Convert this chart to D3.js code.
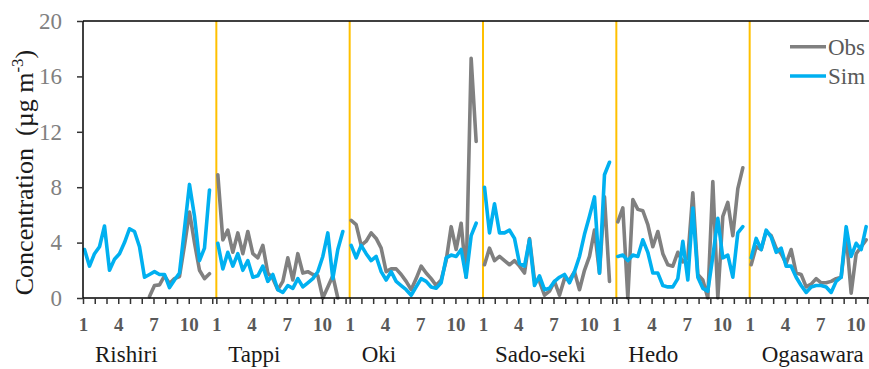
<!DOCTYPE html>
<html>
<head>
<meta charset="utf-8">
<script src="https://cdn.jsdelivr.net/npm/d3@7"></script>
<style>
  html, body { margin: 0; padding: 0; background: #fff; }
  svg { display: block; font-family: "Liberation Serif", "Times New Roman", serif; }
</style>
</head>
<body>
<svg id="chart" width="869" height="369"></svg>
<script>
// Sites along the x axis
const sites = ["Rishiri", "Tappi", "Oki", "Sado-seki", "Hedo", "Ogasawara"];
// Month ticks inside each site block and the ones that carry a label
const monthTicks = [1, 2, 3, 4, 5, 6, 7, 8, 9, 10, 11, 12];
const monthLabels = [1, 4, 7, 10];
const yTicks = [0, 4, 8, 12, 16, 20];
const seriesNames = ["Obs", "Sim"];

// Biweekly concentrations (µg m-3); null = no sample
const obsRishiri = [null, null, null, null, null, null, null, null, null, null, null, null, null,
  0.1, 0.9, 0.95, 1.6, 1.05, 1.4, 1.55, 3.8, 6.2, 4.0, 2.0, 1.4, 1.75];
const simRishiri = [3.5, 2.3, 3.2, 3.7, 5.2, 2.0, 2.8, 3.2, 4.0, 5.0, 4.8, 3.7, 1.5,
  1.7, 1.9, 1.7, 1.7, 0.75, 1.3, 1.8, 5.0, 8.2, 5.9, 2.7, 3.6, 7.8];

const obsTappi = [8.9, 4.2, 4.9, 3.3, 4.7, 3.2, 4.8, 3.2, 2.9, 3.8, 1.8, 1.4, 0.6,
  1.2, 2.9, 1.3, 3.2, 1.8, 1.9, 1.7, 1.6, 0, 0.8, 1.6, 0, null];
const simTappi = [3.95, 2.1, 3.3, 2.3, 3.2, 2.0, 2.7, 1.5, 1.6, 2.3, 1.2, 1.7, 0.6,
  0.4, 0.9, 0.7, 1.4, 0.8, 1.1, 1.4, 1.9, 3.0, 4.7, 1.4, 3.5, 4.8];

const obsOki = [5.6, 5.3, 3.8, 4.1, 4.7, 4.3, 3.6, 1.9, 2.1, 2.1, 1.7, 1.2, 0.6,
  1.4, 2.3, 1.8, 1.4, 0.9, 1.3, 2.7, 5.15, 3.5, 5.4, 1.5, 17.3, 11.3];
const simOki = [3.8, 2.9, 3.8, 3.2, 2.7, 3.0, 1.9, 1.3, 1.9, 1.2, 0.9, 0.6, 0.2,
  0.8, 1.4, 1.2, 0.8, 0.7, 1.1, 2.9, 3.1, 3.0, 3.5, 1.5, 4.5, 5.4];

const obsSadoseki = [2.4, 3.6, 2.7, 3.0, 2.7, 2.4, 2.7, 2.3, 1.8, 4.3, 1.3, 1.2, 0.2,
  0.5, 1.2, 0.2, 1.4, 1.3, 1.9, 0.6, 2.0, 3.0, 4.9, 1.8, 7.3, 1.2];
const simSadoseki = [8.0, 4.7, 6.8, 4.7, 4.7, 4.9, 4.3, 2.5, 2.3, 4.2, 0.9, 1.6, 0.6,
  0.7, 1.2, 1.5, 1.7, 1.1, 1.9, 3.0, 4.6, 5.9, 7.3, 1.8, 8.9, 9.8];

const obsHedo = [5.5, 6.5, 0, 7.1, 6.4, 6.3, 5.3, 3.7, 4.8, 3.2, 2.4, 2.3, 3.3,
  2.6, 2.9, 7.6, 1.7, 1.3, 0, 8.4, 0, 5.9, 6.9, 4.5, 7.9, 9.4];
const simHedo = [3.0, 3.1, 2.7, 3.1, 3.0, 4.2, 3.3, 1.8, 1.8, 0.9, 0.8, 0.8, 1.4,
  4.1, 1.3, 6.5, 1.5, 0.7, 0.5, 3.0, 5.75, 2.9, 3.1, 1.5, 4.7, 5.15];

const obsOgasawara = [2.4, 3.7, 3.5, 4.8, 4.5, 3.6, 3.2, 2.5, 3.5, 1.8, 1.7, 0.8, 1.0,
  1.4, 1.1, 1.1, 1.2, 1.4, 1.5, 4.6, 0.35, 3.2, 3.7, 4.2];
const simOgasawara = [2.9, 4.3, 3.5, 4.9, 4.4, 3.3, 3.6, 2.3, 2.3, 1.5, 0.9, 0.4, 0.8,
  0.9, 0.9, 0.8, 0.4, 1.2, 1.5, 5.15, 3.0, 3.95, 3.5, 5.15];

const obsBySite = [obsRishiri, obsTappi, obsOki, obsSadoseki, obsHedo, obsOgasawara];
const simBySite = [simRishiri, simTappi, simOki, simSadoseki, simHedo, simOgasawara];

// ---- layout ----
const plotLeft = 83, plotRight = 883, plotTop = 21, plotBottom = 298;
const obsColor = "#808080", simColor = "#00b0f0", sepColor = "#ffc000";

const svg = d3.select("#chart");

const siteX = d3.scaleBand().domain(sites).range([plotLeft, plotRight]);
const sampleX = d3.scaleLinear().domain([-0.3, 26.37]).range([0, siteX.bandwidth()]);
const monthX = d3.scaleLinear().domain([1, 12]).range([0, 129.25]);
const y = d3.scaleLinear().domain([0, 20]).range([plotBottom, plotTop]);

svg.append("defs").append("clipPath").attr("id", "plotClip")
  .append("rect")
  .attr("x", plotLeft).attr("y", plotTop)
  .attr("width", plotRight - plotLeft).attr("height", plotBottom - plotTop + 2);

// Site separators
svg.append("g").selectAll("line")
  .data(sites.slice(1))
  .join("line")
  .attr("x1", d => siteX(d)).attr("x2", d => siteX(d))
  .attr("y1", plotTop).attr("y2", plotBottom)
  .attr("stroke", sepColor).attr("stroke-width", 2);

// Data lines: observations first, simulation on top
const linesG = svg.append("g").attr("clip-path", "url(#plotClip)");
function drawSeries(dataBySite, color) {
  sites.forEach((site, i) => {
    const line = d3.line()
      .defined(d => d != null)
      .x((d, j) => siteX(site) + sampleX(j))
      .y(d => y(d));
    linesG.append("path")
      .datum(dataBySite[i])
      .attr("d", line)
      .attr("fill", "none").attr("stroke", color)
      .attr("stroke-width", 3.6).attr("stroke-linejoin", "round").attr("stroke-linecap", "round");
  });
}
drawSeries(obsBySite, obsColor);
drawSeries(simBySite, simColor);

// Plot frame (left axis, top border, bottom axis)
svg.append("line").attr("x1", plotLeft).attr("x2", plotRight).attr("y1", plotTop).attr("y2", plotTop)
  .attr("stroke", "#000").attr("stroke-width", 1.5);
svg.append("line").attr("x1", plotLeft).attr("x2", plotRight).attr("y1", plotBottom).attr("y2", plotBottom)
  .attr("stroke", "#000").attr("stroke-width", 1.5);
svg.append("line").attr("x1", plotLeft).attr("x2", plotLeft).attr("y1", plotTop).attr("y2", plotBottom)
  .attr("stroke", "#000").attr("stroke-width", 1.5);

// Y axis
const yAxis = svg.append("g")
  .attr("transform", `translate(${plotLeft},0)`)
  .call(d3.axisLeft(y).tickValues(yTicks).tickSize(6).tickPadding(15).tickSizeOuter(0));
yAxis.select(".domain").remove();
yAxis.selectAll(".tick line").attr("stroke", "#333").attr("stroke-width", 1.5);
yAxis.selectAll(".tick text")
  .attr("font-family", "Liberation Serif").attr("font-size", 23).attr("fill", "#808080");

// X axis: one month axis per site
sites.forEach(site => {
  const g = svg.append("g")
    .attr("transform", `translate(${siteX(site)},${plotBottom})`)
    .call(d3.axisBottom(monthX).tickValues(monthTicks).tickSize(6).tickPadding(14).tickSizeOuter(0)
      .tickFormat(m => monthLabels.includes(m) ? m : ""));
  g.select(".domain").remove();
  g.selectAll(".tick line").attr("stroke", "#333").attr("stroke-width", 1.5);
  g.selectAll(".tick text")
    .attr("font-family", "Liberation Serif").attr("font-size", 19).attr("font-weight", "bold")
    .attr("fill", "#595959");
});

// Site names
svg.append("g").selectAll("text")
  .data(sites)
  .join("text")
  .attr("x", d => siteX(d) + 12)
  .attr("y", 362)
  .attr("font-family", "Liberation Serif")
  .attr("font-size", 23)
  .attr("fill", "#1a1a1a")
  .text(d => d);

// Y axis title
const title = svg.append("text")
  .attr("transform", "translate(33,172.5) rotate(-90)")
  .attr("text-anchor", "middle")
  .attr("font-family", "Liberation Serif")
  .attr("font-size", 26)
  .attr("fill", "#1a1a1a");
title.append("tspan").text("Concentration");
title.append("tspan").attr("dx", 12).text("(µg m");
title.append("tspan").attr("font-size", 17).attr("dy", -10).text("-3");
title.append("tspan").attr("dy", 10).text(")");

// Legend
const legend = svg.append("g");
const legendRows = [
  { name: seriesNames[0], color: obsColor, y: 46.7 },
  { name: seriesNames[1], color: simColor, y: 76 }
];
legendRows.forEach(r => {
  legend.append("line")
    .attr("x1", 790).attr("x2", 826).attr("y1", r.y).attr("y2", r.y)
    .attr("stroke", r.color).attr("stroke-width", 3.6);
  legend.append("text")
    .attr("x", 828).attr("y", r.y + 8)
    .attr("font-family", "Liberation Serif")
    .attr("font-size", 23).attr("fill", "#595959")
    .text(r.name);
});
</script>
</body>
</html>
